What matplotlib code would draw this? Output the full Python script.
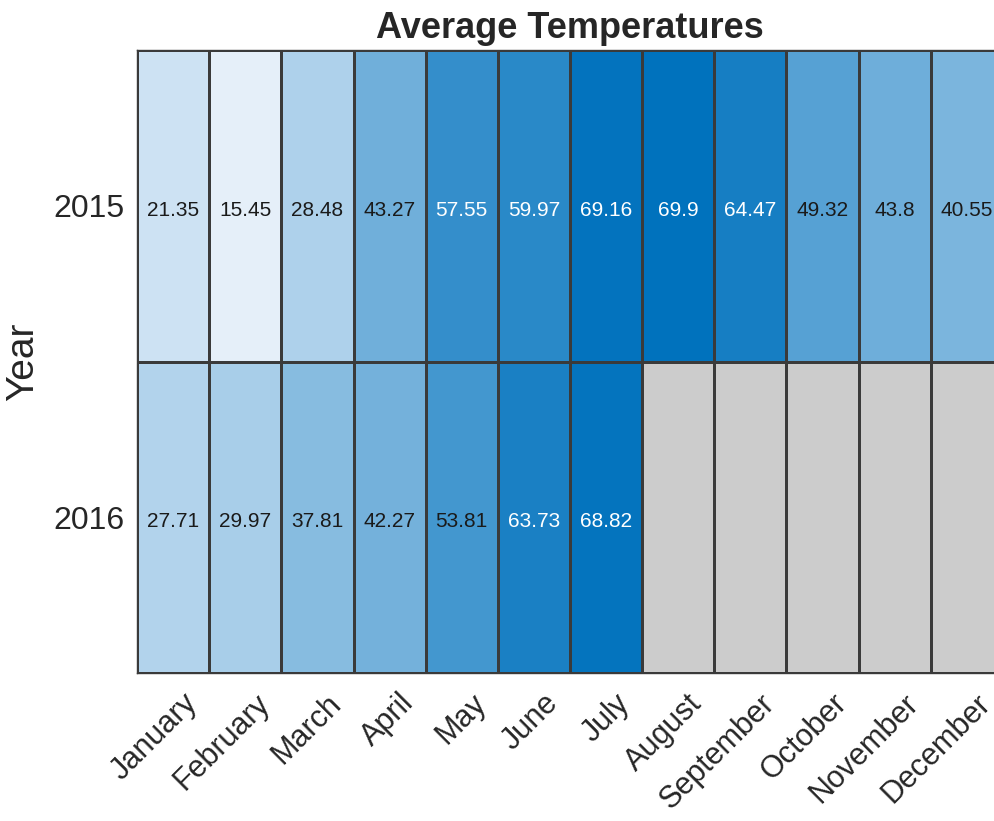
import numpy as np
import matplotlib
matplotlib.use("Agg")
import matplotlib.pyplot as plt
from matplotlib.colors import LinearSegmentedColormap
from matplotlib.transforms import ScaledTranslation

plt.rcParams['font.family'] = ['Liberation Sans', 'DejaVu Sans']

months = ["January", "February", "March", "April", "May", "June", "July",
          "August", "September", "October", "November", "December"]
years = ["2015", "2016"]
temps_2015 = [21.35, 15.45, 28.48, 43.27, 57.55, 59.97, 69.16, 69.9, 64.47, 49.32, 43.8, 40.55]
temps_2016 = [27.71, 29.97, 37.81, 42.27, 53.81, 63.73, 68.82, np.nan, np.nan, np.nan, np.nan, np.nan]

data = np.array([temps_2015, temps_2016], dtype=float)
masked = np.ma.masked_invalid(data)

cmap = LinearSegmentedColormap.from_list(
    "mblue", [(229/255, 239/255, 249/255), (0/255, 114/255, 189/255)])
cmap.set_bad((0.8, 0.8, 0.8))

fig = plt.figure(figsize=(9.95, 8.21), dpi=100)
ax = fig.add_axes([137/995, 1 - 673/821, (1003 - 137)/995, (673 - 50)/821])

vmin, vmax = np.nanmin(data), np.nanmax(data)
ax.pcolormesh(np.arange(len(months) + 1), np.arange(len(years) + 1), masked,
              cmap=cmap, vmin=vmin, vmax=vmax,
              edgecolors='#3a3a3a', linewidth=1.0)
ax.set_xlim(0, len(months))
ax.set_ylim(len(years), 0)

for i in range(len(years)):
    for j in range(len(months)):
        v = data[i, j]
        if np.isnan(v):
            continue
        frac = (v - vmin) / (vmax - vmin)
        col = 'white' if frac > 0.72 else '#1a1a1a'
        ax.text(j + 0.5, i + 0.515, f"{v:g}", ha='center', va='center',
                fontsize=15, color=col)

ax.set_xticks(np.arange(len(months)) + 0.5)
ax.set_xticklabels(months, rotation=45, ha='right', va='top',
                   rotation_mode='anchor', fontsize=22, color='#262626')
ax.set_yticks(np.arange(len(years)) + 0.5)
ax.set_yticklabels(years, fontsize=23, color='#262626')
ax.tick_params(axis='y', length=0, pad=9)
ax.tick_params(axis='x', length=0, pad=11)
shift = ScaledTranslation(9 / 100, 0, fig.dpi_scale_trans)
for lbl in ax.get_xticklabels():
    lbl.set_transform(lbl.get_transform() + shift)
for s in ax.spines.values():
    s.set_color('#3a3a3a')
    s.set_linewidth(1.0)

ax.set_ylabel("Year", fontsize=28, color='#262626')
ax.yaxis.set_label_coords((41 - 137) / 866, 0.5)
ax.set_title("Average Temperatures", fontsize=26, fontweight='bold',
             color='#262626', pad=9)

fig.savefig("out.png", dpi=100)
